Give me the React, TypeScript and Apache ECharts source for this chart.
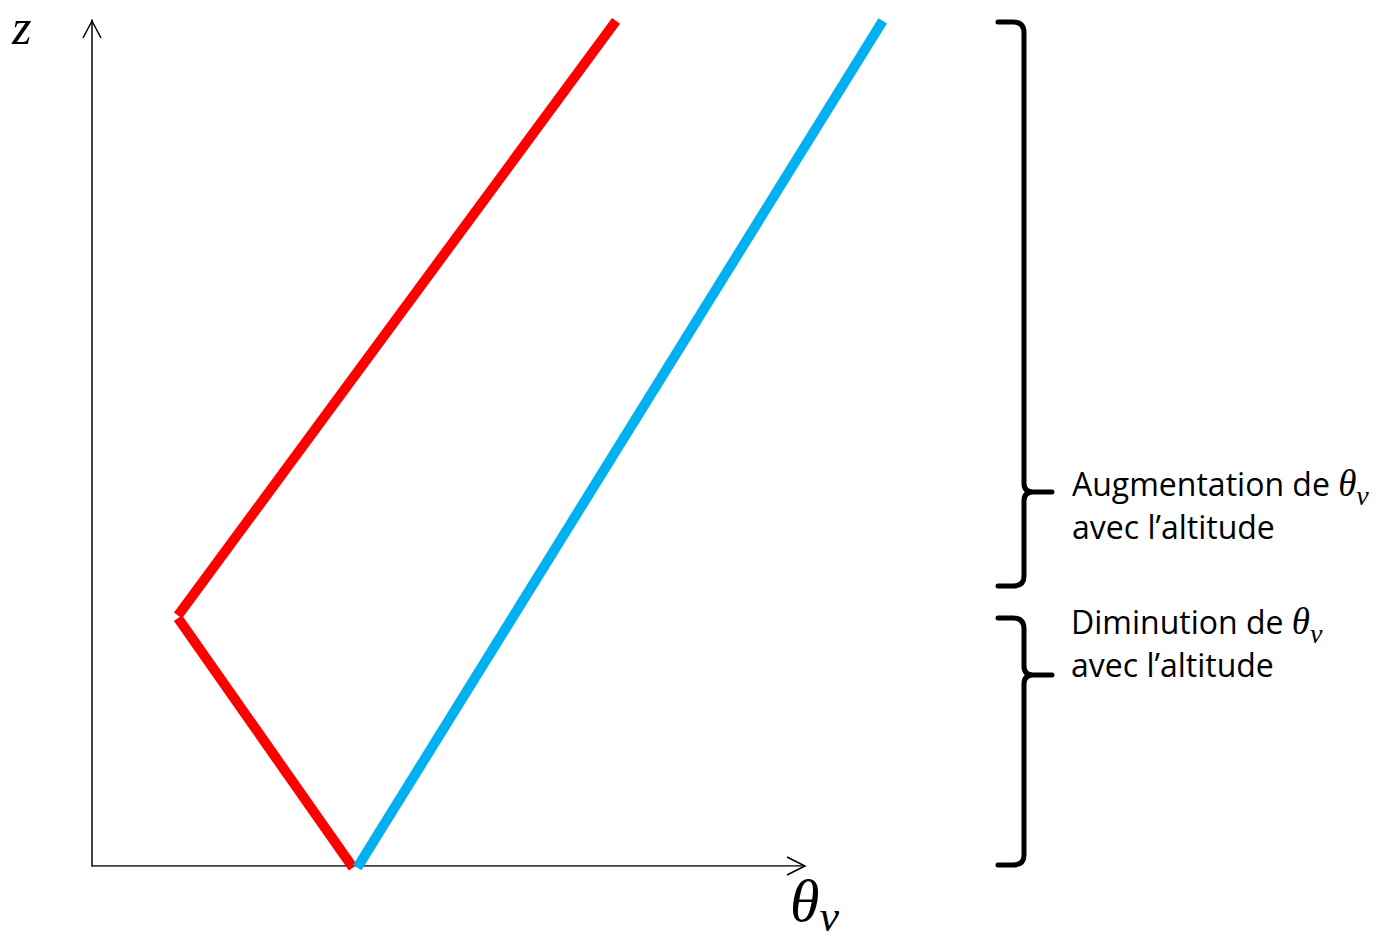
import React, { useEffect, useRef } from "react";
import * as echarts from "echarts";

// Axis units: theta (x) 0..100 spans the drawn axis arrow, z (y) 0..100
const redLower: [number, number][] = [
  [36.6, -0.2],
  [12.06, 29.3],
];
const redUpper: [number, number][] = [
  [12.06, 29.6],
  [73.5, 99.9],
];
const blueLine: [number, number][] = [
  [37.2, -0.2],
  [110.9, 99.9],
];
const xAxisArrowEnd = 100;
const yAxisLabel = "z";
const xAxisLabel = ["θ", "v"];
const upperText = ["Augmentation de ", "avec l’altitude"];
const lowerText = ["Diminution de ", "avec l’altitude"];

const braceTop =
  "M998,22 L1013,22 Q1024,22 1024,33 L1024,483 Q1024,492 1033,492 L1052,492 M1033,492 Q1024,492 1024,501 L1024,576 Q1024,586 1013,586 L998,586";
const braceBottom =
  "M998,618 L1013,618 Q1024,618 1024,629 L1024,666 Q1024,675 1033,675 L1052,675 M1033,675 Q1024,675 1024,684 L1024,855 Q1024,865 1013,865 L998,865";

echarts.graphic.registerShape("braceTop", echarts.graphic.extendPath(braceTop, {}));
echarts.graphic.registerShape("braceBottom", echarts.graphic.extendPath(braceBottom, {}));

const textFont = "Open Sans";
const mathFont = "Liberation Serif";

function labelRich(first: string, second: string) {
  return {
    text: `{n|${first}}{m|θ}{s|v}\n{n|${second}}`,
    rich: {
      n: { fontFamily: textFont, fontSize: 32, fill: "#000", lineHeight: 43 },
      m: { fontFamily: mathFont, fontStyle: "italic", fontSize: 37, fill: "#000", lineHeight: 43 },
      s: {
        fontFamily: mathFont,
        fontStyle: "italic",
        fontSize: 28,
        fill: "#000",
        lineHeight: 43,
        verticalAlign: "bottom",
        padding: [0, 0, -4, 0],
      },
    },
  };
}

export default function App() {
  const ref = useRef<HTMLDivElement>(null);
  useEffect(() => {
    if (!ref.current) return;
    const chart = echarts.init(ref.current, undefined, { renderer: "svg" });
    const hidden = {
      axisLabel: { show: false },
      axisTick: { show: false },
      splitLine: { show: false },
    };
    chart.setOption({
      animation: false,
      backgroundColor: "#fff",
      grid: { left: 92, top: 20, right: 1389 - (92 + 713 * 1.25), bottom: 78 },
      xAxis: { type: "value", min: 0, max: 125, ...hidden, axisLine: { show: false } },
      yAxis: {
        type: "value",
        min: 0,
        max: 100,
        ...hidden,
        axisLine: { show: true, onZero: false, lineStyle: { color: "#000", width: 1.5 } },
      },
      series: [
        {
          type: "line",
          data: [
            [0, 0],
            [xAxisArrowEnd, 0],
          ],
          symbol: "none",
          silent: true,
          lineStyle: { color: "#000", width: 1.5 },
        },
        {
          type: "line",
          data: redLower,
          clip: false,
          symbol: "none",
          lineStyle: { color: "#FF0000", width: 10, cap: "butt" },
        },
        {
          type: "line",
          data: redUpper,
          clip: false,
          symbol: "none",
          lineStyle: { color: "#FF0000", width: 10, cap: "butt" },
        },
        {
          type: "line",
          data: blueLine,
          clip: false,
          symbol: "none",
          lineStyle: { color: "#00B0F0", width: 10, cap: "butt" },
        },
      ],
      graphic: [
        {
          type: "polyline",
          shape: { points: [[83, 38], [92, 21], [101, 38]] },
          style: { stroke: "#000", lineWidth: 1.5, fill: "none" },
        },
        {
          type: "polyline",
          shape: { points: [[787, 857], [805, 866], [787, 875]] },
          style: { stroke: "#000", lineWidth: 1.5, fill: "none" },
        },
        {
          type: "text",
          x: 12,
          y: 2,
          style: {
            text: yAxisLabel,
            fontFamily: mathFont,
            fontStyle: "italic",
            fontSize: 50,
            lineHeight: 50,
            verticalAlign: "top",
            fill: "#000",
          },
        },
        {
          type: "text",
          x: 790,
          y: 870,
          style: {
            text: `{m|${xAxisLabel[0]}}{s|${xAxisLabel[1]}}`,
            rich: {
              m: { fontFamily: mathFont, fontStyle: "italic", fontSize: 60, fill: "#000", lineHeight: 62 },
              s: {
                fontFamily: mathFont,
                fontStyle: "italic",
                fontSize: 44,
                fill: "#000",
                lineHeight: 62,
                verticalAlign: "bottom",
                padding: [0, 0, -6, 0],
              },
            },
          },
        },
        {
          type: "braceTop",
          x: 0,
          y: 0,
          style: { stroke: "#000", lineWidth: 5, fill: "none", lineCap: "round" },
        },
        {
          type: "braceBottom",
          x: 0,
          y: 0,
          style: { stroke: "#000", lineWidth: 5, fill: "none", lineCap: "round" },
        },
        {
          type: "text",
          x: 1072,
          y: 462,
          style: labelRich(upperText[0], upperText[1]),
        },
        {
          type: "text",
          x: 1071,
          y: 600,
          style: labelRich(lowerText[0], lowerText[1]),
        },
      ],
    });
    return () => chart.dispose();
  }, []);
  return (
    <div
      ref={ref}
      style={{ position: "absolute", left: 0, top: 0, width: 1389, height: 944 }}
    />
  );
}
